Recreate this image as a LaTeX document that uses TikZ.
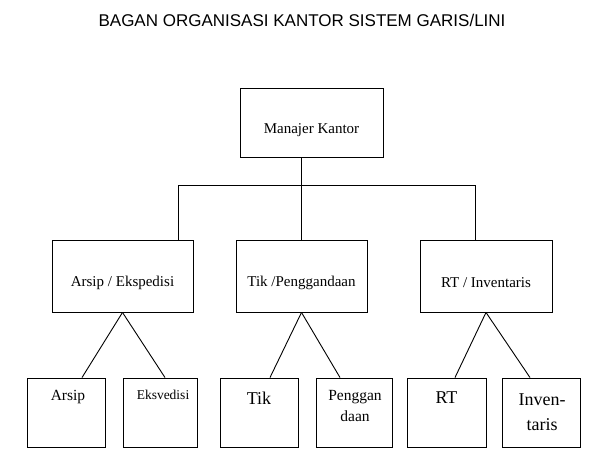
\documentclass[tikz,border=0pt]{standalone}
\usepackage{fontspec}
\setmainfont{Liberation Serif}
\newfontfamily\titlefont{Liberation Sans}
\begin{document}
\begin{tikzpicture}[x=1pt,y=-1pt,
  bx/.style={draw,line width=0.9pt,inner sep=0pt},
  ln/.style={line width=0.9pt},
  lbl/.style={font=\fontsize{15}{17}\selectfont,align=center}]
\useasboundingbox (0,0) rectangle (605,472);
\node[font=\titlefont\fontsize{17}{19}\selectfont] (title) at (302,20) {BAGAN ORGANISASI KANTOR SISTEM GARIS/LINI};
% level 1
\node[bx,minimum width=143pt,minimum height=69pt] (m) at (311.5,122.5) {};
\node[lbl] (mt) at (311.5,130) {Manajer Kantor};
% level 2
\node[bx,minimum width=141pt,minimum height=72pt] (a) at (122.5,276) {};
\node[bx,minimum width=131pt,minimum height=72pt] (t) at (301.5,276) {};
\node[bx,minimum width=132pt,minimum height=72pt] (r) at (486,276) {};
\node[lbl] (at) at (122.5,283) {Arsip / Ekspedisi};
\node[lbl] (tt) at (301.5,283) {Tik /Penggandaan};
\node[lbl] (rt) at (486,283) {RT / Inventaris};
% level 3
\node[bx,minimum width=78pt,minimum height=69pt] (a1) at (66,412.5) {};
\node[bx,minimum width=74pt,minimum height=69pt] (a2) at (160,412.5) {};
\node[bx,minimum width=78pt,minimum height=69pt] (t1) at (259,412.5) {};
\node[bx,minimum width=76pt,minimum height=69pt] (t2) at (354,412.5) {};
\node[bx,minimum width=79pt,minimum height=69pt] (r1) at (446.5,412.5) {};
\node[bx,minimum width=78pt,minimum height=69pt] (r2) at (541,412.5) {};
\node[lbl,font=\fontsize{15.5}{17}\selectfont] (a1t) at (68,397) {Arsip};
\node[lbl,font=\fontsize{13.5}{15}\selectfont] (a2t) at (163,395) {Eksvedisi};
\node[lbl,font=\fontsize{18}{20}\selectfont] (t1t) at (259,398) {Tik};
\node[lbl,font=\fontsize{15.5}{21}\selectfont] (t2t) at (355,406) {Penggan\\daan};
\node[lbl,font=\fontsize{18}{20}\selectfont] (r1t) at (446.5,398) {RT};
\node[lbl,font=\fontsize{18}{25}\selectfont] (r2t) at (542,412) {Inven-\\taris};
% connectors
\coordinate (hl) at (178,185);
\coordinate (hr) at (475,185);
\draw[ln] (m.south -| t.north) -- (t.north);
\draw[ln] (a.north -| hl) -- (hl) -- (hr) -- (r.north -| hr);
\draw[ln] (a.south) -- (a1.north -| 82,0);
\draw[ln] (a.south) -- (a2.north -| 165,0);
\draw[ln] (t.south) -- (t1.north -| 270,0);
\draw[ln] (t.south) -- (t2.north -| 340,0);
\draw[ln] (r.south) -- (r1.north -| 455,0);
\draw[ln] (r.south) -- (r2.north -| 530,0);
\end{tikzpicture}
\end{document}
